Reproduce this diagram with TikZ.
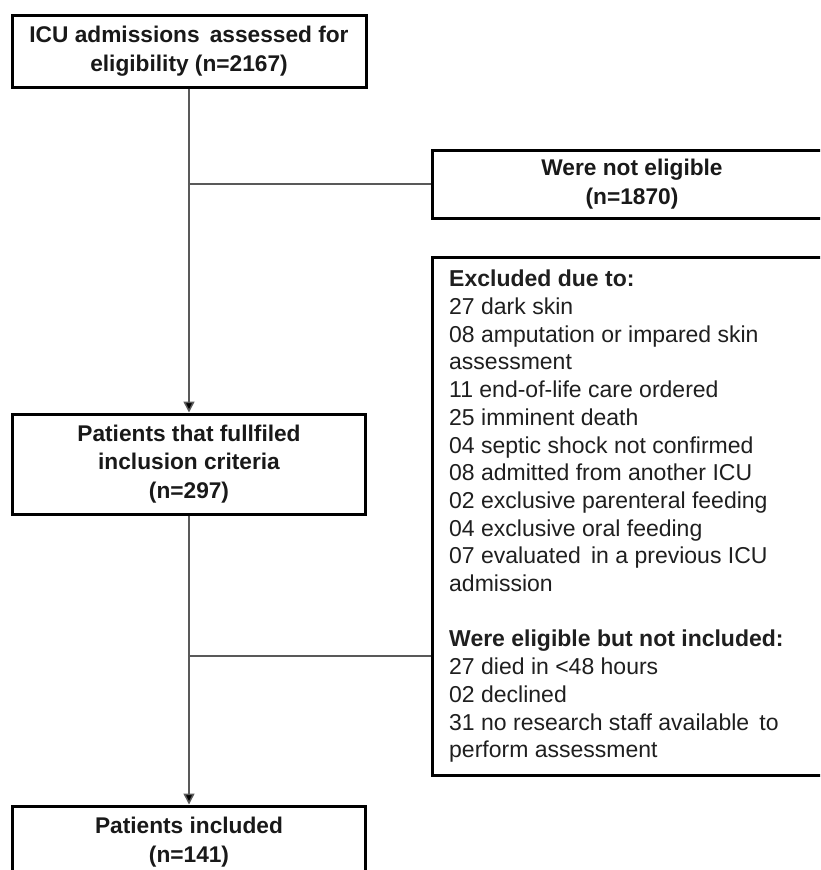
\documentclass[tikz,border=0pt]{standalone}
\usepackage{fontspec}
\setmainfont{Liberation Sans}
\usetikzlibrary{arrows.meta}
\begin{document}
\begin{tikzpicture}[x=1pt,y=-1pt,
  box/.style={draw=black, line width=3pt, fill=white, inner sep=0pt},
  title/.style={font=\fontsize{22.7}{28.5}\selectfont\bfseries, align=center, text=black!90},
  conn/.style={draw=black!65, line width=1.5pt},
  arr/.style={conn, -{Triangle[length=11pt,width=11pt,fill=black]}}]
\useasboundingbox (0,0) rectangle (820,870);
\clip (0,0) rectangle (820,870);
\node[box, title, minimum width=354pt, minimum height=72pt] (adm) at (189,51)
  {ICU admissions\, assessed for\\eligibility (n=2167)};
\node[box, title, minimum width=400pt, minimum height=68pt] (note) at (632,184)
  {Were not eligible\\(n=1870)};
\node[box, minimum width=400pt, minimum height=518pt] (excl) at (632,516) {};
\node[anchor=north west, align=left, inner sep=0pt, text=black!88,
  font=\fontsize{23}{27.7}\selectfont] (extext) at (449,270)
  {\textbf{Excluded due to:}\\
   27 dark skin\\
   08 amputation or impared skin\\
   assessment\\
   11 end-of-life care ordered\\
   25 imminent death\\
   04 septic shock not confirmed\\
   08 admitted from another ICU\\
   02 exclusive parenteral feeding\\
   04 exclusive oral feeding\\
   07 evaluated\, in a previous ICU\\
   admission\\[27.7pt]
   \textbf{Were eligible but not included:}\\
   27 died in <48 hours\\
   02 declined\\
   31 no research staff available\, to\\
   perform assessment};
\node[box, title, minimum width=353pt, minimum height=100pt] (ful) at (189,464)
  {Patients that fullfiled\\inclusion criteria\\(n=297)};
\node[box, title, minimum width=353pt, minimum height=72pt] (inc) at (189,842)
  {Patients included\\(n=141)};
\coordinate (j1) at (189,184);
\coordinate (j2) at (189,656);
\draw[arr] (adm.south) -- (ful.north);
\draw[arr] (ful.south) -- (inc.north);
\draw[conn] (j1) -- (note.west);
\draw[conn] (j2) -- (j2 -| excl.west);
\end{tikzpicture}
\end{document}
